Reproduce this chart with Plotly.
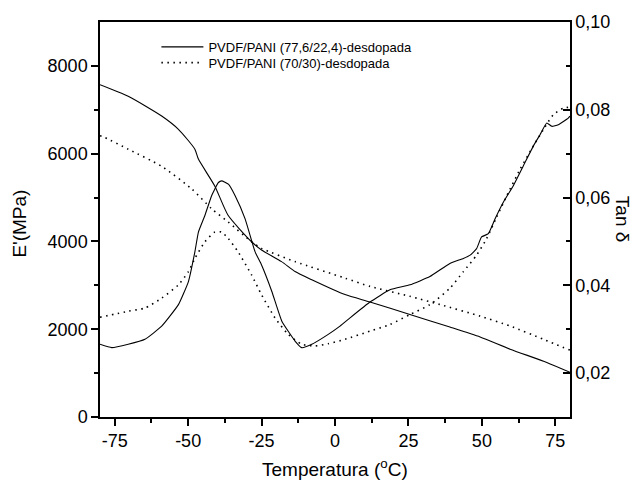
import plotly.graph_objects as go

# E' (MPa) vs temperature (°C)
t_e1 = [-80, -70.4, -59.0, -53.3, -47.7, -46.5, -40.9, -36.4, -28.4, -25.0, -18.2, -13.6, -7.9, 3.4, 11.9, 25.5, 39.1, 49.4, 59.6, 72.1, 80]
e1 = [7571, 7308, 6857, 6554, 6102, 5876, 5259, 4597, 3993, 3806, 3541, 3315, 3128, 2789, 2621, 2337, 2050, 1823, 1546, 1243, 1017]

t_e2 = [-80, -78.3, -70.4, -59.0, -48.8, -42.0, -36.4, -28.4, -25.0, -13.6, 3.4, 11.9, 25.5, 35.7, 49.4, 59.6, 70.9, 80]
e2 = [6411, 6366, 6102, 5711, 5198, 4746, 4445, 3993, 3842, 3541, 3164, 2976, 2750, 2563, 2298, 2072, 1772, 1523]

# Tan delta
t_t1 = [-80, -76.0, -70.4, -64.7, -59.0, -53.3, -49.9, -47.7, -46.5, -44.3, -42.0, -39.7, -38.6, -36.3, -34.0, -30.6, -27.2, -25.0, -21.5, -18.1, -13.6, -11.3, -7.9, -2.3, 1.7, 5.1, 11.9, 18.7, 25.5, 32.3, 39.1, 43.7, 46.0, 48.2, 49.9, 52.2, 54.5, 57.3, 60.7, 64.1, 67.5, 69.8, 72.1, 73.8, 76.0, 79.4, 80]
tan1 = [0.02657, 0.02580, 0.02657, 0.02770, 0.03070, 0.03560, 0.04086, 0.04763, 0.05214, 0.05591, 0.06043, 0.06343, 0.06381, 0.06305, 0.06043, 0.05515, 0.04763, 0.04463, 0.03860, 0.03183, 0.02731, 0.02580, 0.02657, 0.02883, 0.03070, 0.03257, 0.03619, 0.03898, 0.04011, 0.04199, 0.04499, 0.04612, 0.04688, 0.04837, 0.05102, 0.05176, 0.05515, 0.05892, 0.06269, 0.06720, 0.07172, 0.07433, 0.07698, 0.07623, 0.07659, 0.07810, 0.07855]

t_t2 = [-80, -70.4, -64.7, -59.0, -53.3, -49.9, -47.7, -44.3, -40.9, -38.6, -36.3, -33.0, -28.4, -25.0, -20.4, -15.9, -11.3, -6.8, -2.3, 3.4, 11.9, 18.7, 25.5, 32.3, 39.1, 43.7, 48.2, 51.6, 55.0, 58.5, 63.0, 67.5, 70.9, 74.3, 77.7, 80]
tan2 = [0.03273, 0.03409, 0.03483, 0.03709, 0.04011, 0.04312, 0.04612, 0.04989, 0.05214, 0.05214, 0.05063, 0.04763, 0.04237, 0.03786, 0.03257, 0.02883, 0.02657, 0.02619, 0.02670, 0.02770, 0.02957, 0.03108, 0.03334, 0.03560, 0.03935, 0.04312, 0.04688, 0.05063, 0.05553, 0.06043, 0.06643, 0.07172, 0.07546, 0.07885, 0.08036, 0.08059]

name1 = "PVDF/PANI (77,6/22,4)-desdopada"
name2 = "PVDF/PANI (70/30)-desdopada"

x_ticks = [-75, -50, -25, 0, 25, 50, 75]
x_labels = ["-75", "-50", "-25", "0", "25", "50", "75"]
y_ticks = [0, 2000, 4000, 6000, 8000]
y_labels = ["0", "2000", "4000", "6000", "8000"]
y2_ticks = [0.02, 0.04, 0.06, 0.08, 0.10]
y2_labels = ["0,02", "0,04", "0,06", "0,08", "0,10"]

FONT = "Liberation Sans, Arial, sans-serif"
solid = dict(color="black", width=1.1)
dotted = dict(color="black", width=1.6, dash="1.5px,4.5px")

fig = go.Figure()
fig.add_trace(go.Scatter(x=t_e1, y=e1, mode="lines", line=dict(shape="spline", smoothing=0.6, **solid), name=name1, legend="legend"))
fig.add_trace(go.Scatter(x=t_e2, y=e2, mode="lines", line=dict(shape="spline", smoothing=0.6, **dotted), name=name2, legend="legend2"))
fig.add_trace(go.Scatter(x=t_t1, y=tan1, mode="lines", line=dict(shape="spline", smoothing=0.4, **solid), yaxis="y2", showlegend=False))
fig.add_trace(go.Scatter(x=t_t2, y=tan2, mode="lines", line=dict(shape="spline", smoothing=0.6, **dotted), yaxis="y2", showlegend=False))

axcommon = dict(showgrid=False, zeroline=False, showline=True, linecolor="black", linewidth=1.5,
                tickcolor="black", tickwidth=1.5, ticklen=7,
                tickfont=dict(family=FONT, size=18, color="black"))
minor_common = dict(ticklen=4, tickwidth=1.5, tickcolor="black")
legcommon = dict(x=0.12, xanchor="left", yanchor="top", bgcolor="rgba(0,0,0,0)",
                 font=dict(family=FONT, size=13, color="black"), itemwidth=42)

fig.update_layout(
    width=643, height=486,
    margin=dict(l=100, r=73, t=18, b=69),
    paper_bgcolor="white", plot_bgcolor="white",
    font=dict(family=FONT, color="black"),
    xaxis=dict(range=[-80, 80], tickvals=x_ticks, ticktext=x_labels, ticks="outside", mirror=True,
               minor=dict(tickvals=[-62.5, -37.5, -12.5, 12.5, 37.5, 62.5], ticks="outside", **minor_common),
               **axcommon),
    yaxis=dict(range=[0, 9000], tickvals=y_ticks, ticktext=y_labels, ticks="outside",
               minor=dict(tickvals=[1000, 3000, 5000, 7000], ticks="outside", **minor_common),
               **axcommon),
    yaxis2=dict(range=[0.01, 0.10], overlaying="y", side="right", tickvals=y2_ticks, ticktext=y2_labels, ticks="inside",
                minor=dict(tickvals=[0.03, 0.05, 0.07, 0.09], ticks="inside", **minor_common),
                **axcommon),
    legend=dict(y=0.975, **legcommon),
    legend2=dict(y=0.935, **legcommon),
    annotations=[
        dict(text="Temperatura (<sup>o</sup>C)", xref="paper", yref="paper", x=0.5, y=-0.13, xanchor="center", yanchor="middle",
             showarrow=False, font=dict(family=FONT, size=19, color="black")),
        dict(text="E'(MPa)", xref="paper", yref="paper", x=-0.172, y=0.49, xanchor="center", yanchor="middle",
             textangle=-90, showarrow=False, font=dict(family=FONT, size=19, color="black")),
        dict(text="Tan δ", xref="paper", yref="paper", x=1.112, y=0.5, xanchor="center", yanchor="middle",
             textangle=90, showarrow=False, font=dict(family=FONT, size=19, color="black")),
    ],
)

fig.write_html("out.html")
